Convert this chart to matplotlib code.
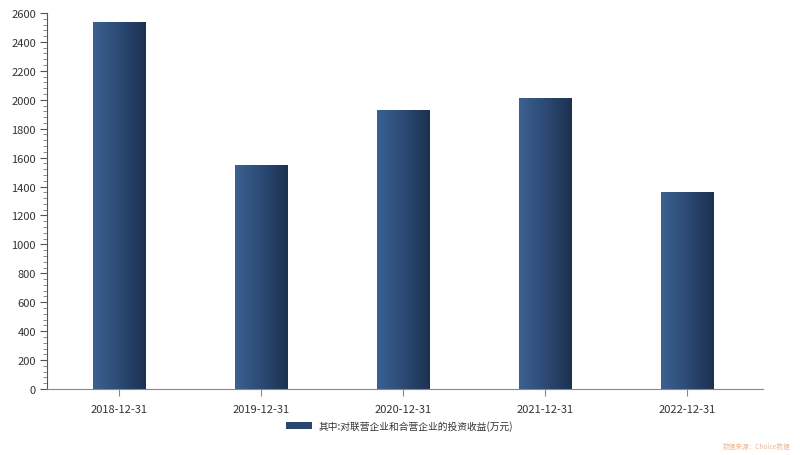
import numpy as np
import matplotlib
matplotlib.use("Agg")
import matplotlib.pyplot as plt
from matplotlib.colors import LinearSegmentedColormap
from matplotlib.patches import Patch
from matplotlib.ticker import MultipleLocator

plt.rcParams['font.family'] = ['Noto Sans CJK SC', 'DejaVu Sans']

dates = ['2018-12-31', '2019-12-31', '2020-12-31', '2021-12-31', '2022-12-31']
income = [2538, 1549, 1929, 2012, 1362]
series_name = '其中:对联营企业和合营企业的投资收益(万元)'

cmap = LinearSegmentedColormap.from_list('bar', ['#3b6192', '#2c4a74', '#1c3150'])
grad = np.linspace(0, 1, 256).reshape(1, -1)

fig = plt.figure(figsize=(8, 4.56), dpi=100)
ax = fig.add_axes([0.05875, 0.1447, 0.895, 0.8246])

x = np.arange(len(dates))
bars = ax.bar(x, income, width=0.373, color='none', edgecolor='none')
for b in bars:
    x0, y0 = b.get_x(), b.get_y()
    im = ax.imshow(grad, cmap=cmap, aspect='auto',
                   extent=[x0, x0 + b.get_width(), y0, y0 + b.get_height()],
                   zorder=2)
    im.set_clip_path(b)

ax.set_xlim(-0.507, len(dates) - 1 + 0.535)
ax.set_ylim(0, 2600)
ax.set_xticks(x)
ax.set_xticklabels(dates)
ax.yaxis.set_major_locator(MultipleLocator(200))
ax.yaxis.set_minor_locator(MultipleLocator(40))

for s in ['top', 'right']:
    ax.spines[s].set_visible(False)
ax.spines['left'].set_color('#555555')
ax.spines['bottom'].set_color('#888888')
ax.tick_params(axis='y', which='major', length=5, color='#555555', labelsize=8, labelcolor='#333333', pad=3)
ax.tick_params(axis='y', which='minor', length=3, color='#777777')
ax.tick_params(axis='x', length=5, color='#888888', labelsize=8, labelcolor='#333333', pad=6)

fig.legend(handles=[Patch(facecolor='#2a4770', edgecolor='none')], labels=[series_name],
           loc='center', bbox_to_anchor=(0.5, 0.064), frameon=False, fontsize=7,
           handlelength=2.6, handleheight=0.7, handletextpad=0.75, labelcolor='#333333')

fig.text(0.988, 0.01, '数据来源：Choice数据', ha='right', va='bottom', fontsize=4.8, color='#f0b894')

fig.savefig('out.png', dpi=100)
